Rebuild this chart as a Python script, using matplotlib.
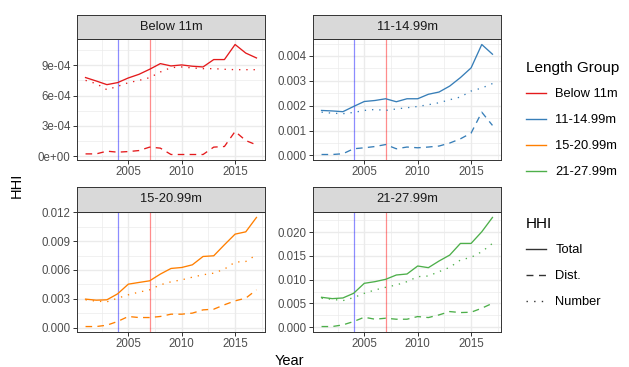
import matplotlib.pyplot as plt
import numpy as np
from matplotlib.lines import Line2D
from matplotlib.ticker import FixedLocator

plt.rcParams["font.family"] = ["Liberation Sans", "DejaVu Sans"]

years = list(range(2001, 2018))
groups = ["Below 11m", "11-14.99m", "15-20.99m", "21-27.99m"]
colors = ["#E41A1C", "#377EB8", "#FF7F00", "#4DAF4A"]

# HHI series (Total, Dist., Number)
below11_total = [7.78e-4, 7.44e-4, 7.08e-4, 7.28e-4, 7.74e-4, 8.10e-4, 8.60e-4, 9.16e-4, 8.93e-4,
                 9.03e-4, 8.90e-4, 8.83e-4, 9.56e-4, 9.56e-4, 11.05e-4, 10.20e-4, 9.72e-4]
below11_dist = [0.23e-4, 0.23e-4, 0.50e-4, 0.40e-4, 0.46e-4, 0.56e-4, 0.90e-4, 0.80e-4, 0.17e-4,
                0.17e-4, 0.17e-4, 0.17e-4, 0.90e-4, 0.96e-4, 2.45e-4, 1.55e-4, 1.12e-4]
below11_number = [7.50e-4, 7.18e-4, 6.58e-4, 6.91e-4, 7.27e-4, 7.50e-4, 7.77e-4, 8.33e-4, 8.76e-4,
                  8.83e-4, 8.73e-4, 8.66e-4, 8.66e-4, 8.60e-4, 8.56e-4, 8.56e-4, 8.56e-4]

m11_total = [1.81e-3, 1.79e-3, 1.76e-3, 1.97e-3, 2.17e-3, 2.21e-3, 2.28e-3, 2.16e-3, 2.28e-3,
             2.28e-3, 2.46e-3, 2.55e-3, 2.79e-3, 3.13e-3, 3.52e-3, 4.46e-3, 4.07e-3]
m11_dist = [0.04e-3, 0.04e-3, 0.07e-3, 0.27e-3, 0.31e-3, 0.36e-3, 0.44e-3, 0.27e-3, 0.34e-3,
            0.31e-3, 0.34e-3, 0.38e-3, 0.50e-3, 0.67e-3, 0.90e-3, 1.74e-3, 1.21e-3]
m11_number = [1.74e-3, 1.70e-3, 1.68e-3, 1.73e-3, 1.81e-3, 1.85e-3, 1.81e-3, 1.87e-3, 1.92e-3,
              1.97e-3, 2.04e-3, 2.12e-3, 2.24e-3, 2.35e-3, 2.59e-3, 2.71e-3, 2.89e-3]

m15_total = [2.96e-3, 2.85e-3, 2.89e-3, 3.51e-3, 4.52e-3, 4.70e-3, 4.87e-3, 5.57e-3, 6.16e-3,
             6.26e-3, 6.54e-3, 7.41e-3, 7.48e-3, 8.63e-3, 9.74e-3, 9.98e-3, 11.48e-3]
m15_dist = [0.10e-3, 0.10e-3, 0.24e-3, 0.63e-3, 1.15e-3, 1.04e-3, 1.04e-3, 1.15e-3, 1.39e-3,
            1.39e-3, 1.50e-3, 1.84e-3, 1.91e-3, 2.37e-3, 2.78e-3, 3.06e-3, 3.93e-3]
m15_number = [2.89e-3, 2.75e-3, 2.68e-3, 3.06e-3, 3.41e-3, 3.69e-3, 3.93e-3, 4.45e-3, 4.77e-3,
              4.97e-3, 5.25e-3, 5.50e-3, 5.67e-3, 6.09e-3, 6.82e-3, 6.89e-3, 7.58e-3]

m21_total = [6.29e-3, 6.01e-3, 6.15e-3, 7.13e-3, 9.23e-3, 9.58e-3, 10.07e-3, 10.98e-3, 11.19e-3,
             12.87e-3, 12.52e-3, 13.92e-3, 15.17e-3, 17.62e-3, 17.62e-3, 20.07e-3, 23.08e-3]
m21_dist = [0.14e-3, 0.14e-3, 0.49e-3, 1.19e-3, 2.10e-3, 1.68e-3, 1.89e-3, 1.68e-3, 1.68e-3,
            2.24e-3, 2.03e-3, 2.59e-3, 3.29e-3, 3.08e-3, 3.15e-3, 3.99e-3, 5.03e-3]
m21_number = [6.08e-3, 5.87e-3, 5.59e-3, 6.22e-3, 7.13e-3, 7.83e-3, 8.39e-3, 8.88e-3, 9.58e-3,
              10.63e-3, 10.77e-3, 11.68e-3, 12.59e-3, 14.13e-3, 14.69e-3, 15.87e-3, 17.62e-3]

series = [
    (below11_total, below11_dist, below11_number),
    (m11_total, m11_dist, m11_number),
    (m15_total, m15_dist, m15_number),
    (m21_total, m21_dist, m21_number),
]
y_breaks = [
    [0, 3e-4, 6e-4, 9e-4],
    [0, 0.001, 0.002, 0.003, 0.004],
    [0, 0.003, 0.006, 0.009, 0.012],
    [0, 0.005, 0.010, 0.015, 0.020],
]
y_labels = [
    ["0e+00", "3e-04", "6e-04", "9e-04"],
    ["0.000", "0.001", "0.002", "0.003", "0.004"],
    ["0.000", "0.003", "0.006", "0.009", "0.012"],
    ["0.000", "0.005", "0.010", "0.015", "0.020"],
]
x_breaks = [2005, 2010, 2015]
policy_years = [(2004, "blue"), (2007, "red")]

hhi_types = ["Total", "Dist.", "Number"]
styles = ["-", (0, (5, 4)), (0, (1, 4.5))]

W, H = 629, 367
fig = plt.figure(figsize=(W / 100, H / 100), dpi=100)

cols = [(77, 265), (313, 501)]
rows = [(15, 39, 160), (187, 212, 332)]  # strip top, plot top, plot bottom

dark = "#333333"
grid = "#EBEBEB"

for i, name in enumerate(groups):
    c0, c1 = cols[i % 2]
    s0, p0, p1 = rows[i // 2]
    ax = fig.add_axes([c0 / W, 1 - p1 / H, (c1 - c0) / W, (p1 - p0) / H])
    sax = fig.add_axes([c0 / W, 1 - p0 / H, (c1 - c0) / W, (p0 - s0) / H])

    for vals, ls in zip(series[i], styles):
        ax.plot(years, vals, color=colors[i], lw=0.95, linestyle=ls, zorder=3)
    for yr, col in policy_years:
        ax.axvline(yr, color=col, alpha=0.45, lw=0.9, zorder=2)

    ax.margins(x=0.05, y=0.05)
    yb = y_breaks[i]
    step = yb[1] - yb[0]
    ax.set_yticks(yb)
    ax.set_yticklabels(y_labels[i])
    ax.yaxis.set_minor_locator(FixedLocator([b + step / 2 for b in yb]))
    ax.set_xticks(x_breaks)
    ax.xaxis.set_minor_locator(FixedLocator([2002.5, 2007.5, 2012.5, 2017.5]))
    ax.grid(True, which="major", color=grid, lw=1.0, zorder=0)
    ax.grid(True, which="minor", color=grid, lw=0.5, zorder=0)
    ax.set_axisbelow(True)
    ax.tick_params(which="major", length=3, width=0.7, color=dark,
                   labelsize=8.3, labelcolor="#4D4D4D", pad=1.5)
    ax.tick_params(which="minor", length=0)
    for sp in ax.spines.values():
        sp.set_color(dark)
        sp.set_linewidth(0.7)

    sax.set_facecolor("#D9D9D9")
    sax.set_xticks([])
    sax.set_yticks([])
    for sp in sax.spines.values():
        sp.set_color(dark)
        sp.set_linewidth(0.7)
    sax.text(0.5, 0.5, name, ha="center", va="center", fontsize=9.3,
             color="#1A1A1A", transform=sax.transAxes)

fig.text(289 / W, 1 - 361 / H, "Year", ha="center", va="center", fontsize=10.5)
fig.text(17 / W, 1 - 185 / H, "HHI", ha="center", va="center", fontsize=10.5,
         rotation=90)

# legends
grp_handles = [Line2D([], [], color=c, lw=1.0) for c in colors]
leg1 = fig.legend(grp_handles, groups, loc="upper left",
                  bbox_to_anchor=(514 / W, 1 - 49 / H), frameon=False,
                  title="Length Group", alignment="left", fontsize=9.3,
                  title_fontsize=11, handlelength=1.6, handletextpad=0.7,
                  labelspacing=1.07)
type_handles = [Line2D([], [], color=dark, lw=1.0, linestyle=ls) for ls in styles]
leg2 = fig.legend(type_handles, hhi_types, loc="upper left",
                  bbox_to_anchor=(514 / W, 1 - 205 / H), frameon=False,
                  title="HHI", alignment="left", fontsize=9.3,
                  title_fontsize=11, handlelength=1.6, handletextpad=0.7,
                  labelspacing=1.07)

fig.savefig("out.png", dpi=100)
